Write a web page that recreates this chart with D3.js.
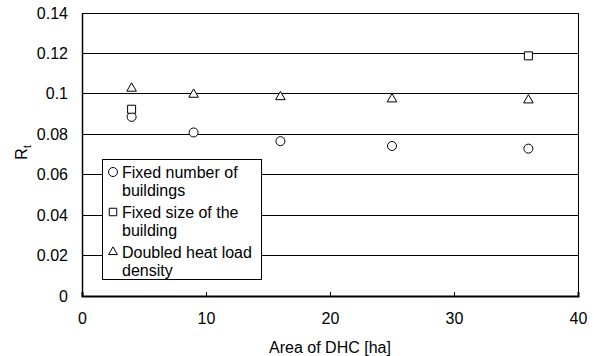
<!DOCTYPE html>
<html>
<head>
<meta charset="utf-8">
<script src="https://cdn.jsdelivr.net/npm/d3@7"></script>
<style>
  body { margin: 0; background: #fff; }
  svg { font-family: Arial, "Liberation Sans", sans-serif; }
</style>
</head>
<body>
<svg width="594" height="356"></svg>
<script>
// data
const areas = [4, 9, 16, 25, 36];
const fixedNumber = [0.0886, 0.0809, 0.0766, 0.0742, 0.0729];
const fixedSizeAreas = [4, 36];
const fixedSize = [0.0924, 0.1188];
const doubledLoad = [0.1027, 0.0997, 0.0985, 0.0974, 0.0969];
const xTicks = [0, 10, 20, 30, 40];
const yTicks = [0, 0.02, 0.04, 0.06, 0.08, 0.1, 0.12, 0.14];

const margin = { top: 13, right: 16, bottom: 60, left: 82 };
const width = 594 - margin.left - margin.right;
const height = 356 - margin.top - margin.bottom;
const fontFam = 'Arial, "Liberation Sans", sans-serif';

const x = d3.scaleLinear().domain([0, 40]).range([0, width]);
const y = d3.scaleLinear().domain([0, 0.14]).range([height, 0]);

const svg = d3.select('svg').
  append('g').
  attr('transform', `translate(${margin.left}, ${margin.top})`);

// gridlines
svg.append('g').
  selectAll('line').
  data(yTicks.filter(d => d > 0)).
  enter().append('line').
  attr('x1', 0).attr('x2', width).
  attr('y1', d => y(d)).attr('y2', d => y(d)).
  attr('stroke', '#000').attr('stroke-width', 1).
  attr('shape-rendering', 'crispEdges');

// frame right side
svg.append('line').
  attr('x1', width).attr('x2', width).attr('y1', 0).attr('y2', height).
  attr('stroke', '#000').attr('shape-rendering', 'crispEdges');

const yAxis = d3.axisLeft(y).tickValues(yTicks).tickSize(0).tickPadding(14).
  tickFormat(d => d3.format('')(+d.toFixed(2)));
const gy = svg.append('g').call(yAxis);
gy.select('.domain').attr('stroke-width', 1.5);
gy.selectAll('text').attr('font-size', 16).attr('font-family', fontFam);

const xAxis = d3.axisBottom(x).tickValues(xTicks).tickSize(-4).tickPadding(17).tickFormat(d3.format('d'));
const gx = svg.append('g').attr('transform', `translate(0, ${height})`).call(xAxis);
gx.select('.domain').attr('stroke-width', 2);
gx.selectAll('text').attr('font-size', 16).attr('font-family', fontFam);

// axis titles
svg.append('text').
  attr('x', x(20)).attr('y', height + 57).
  attr('text-anchor', 'middle').attr('font-size', 16).
  text('Area of DHC [ha]');

const yl = svg.append('text').
  attr('transform', `translate(${-55}, ${y(0.071)}) rotate(-90)`).
  attr('text-anchor', 'middle').attr('font-size', 16);
yl.append('tspan').text('R');
yl.append('tspan').attr('font-size', 10).attr('dy', 4).text('t');

// markers
const tri = d3.symbol().type(d3.symbolTriangle).size(40);
const sq = d3.symbol().type(d3.symbolSquare).size(64);

svg.append('g').selectAll('circle').
  data(areas.map((a, i) => [a, fixedNumber[i]])).
  enter().append('circle').
  attr('cx', d => x(d[0])).attr('cy', d => y(d[1])).attr('r', 4.5).
  attr('fill', '#fff').attr('stroke', '#000');

svg.append('g').selectAll('path').
  data(fixedSizeAreas.map((a, i) => [a, fixedSize[i]])).
  enter().append('path').
  attr('d', sq).
  attr('transform', d => `translate(${x(d[0])}, ${y(d[1])})`).
  attr('fill', '#fff').attr('stroke', '#000');

svg.append('g').selectAll('path').
  data(areas.map((a, i) => [a, doubledLoad[i]])).
  enter().append('path').
  attr('d', tri).
  attr('transform', d => `translate(${x(d[0])}, ${y(d[1])})`).
  attr('fill', '#fff').attr('stroke', '#000');

// legend
const legend = svg.append('g').attr('transform', `translate(${102 - margin.left}, ${159 - margin.top})`);
legend.append('rect').
  attr('width', 159).attr('height', 120).
  attr('fill', '#fff').attr('stroke', '#000').attr('shape-rendering', 'crispEdges');

const legTri = d3.symbol().type(d3.symbolTriangle).size(34);
const legSq = d3.symbol().type(d3.symbolSquare).size(56);
const entries = [
  { sym: 'circle', lines: ['Fixed number of', 'buildings'] },
  { sym: 'square', lines: ['Fixed size of the', 'building'] },
  { sym: 'triangle', lines: ['Doubled heat load', 'density'] }
];
entries.forEach((e, i) => {
  const gy0 = 13 + i * 40;
  const g = legend.append('g');
  if (e.sym === 'circle') {
    g.append('circle').attr('cx', 11).attr('cy', gy0).attr('r', 4.5).attr('fill', '#fff').attr('stroke', '#000');
  } else {
    g.append('path').attr('d', e.sym === 'square' ? legSq : legTri).
      attr('transform', `translate(11, ${gy0})`).attr('fill', '#fff').attr('stroke', '#000');
  }
  e.lines.forEach((t, j) => {
    g.append('text').attr('x', 20).attr('y', gy0 + 6 + j * 18).
      attr('font-size', 16).text(t);
  });
});
</script>
</body>
</html>
